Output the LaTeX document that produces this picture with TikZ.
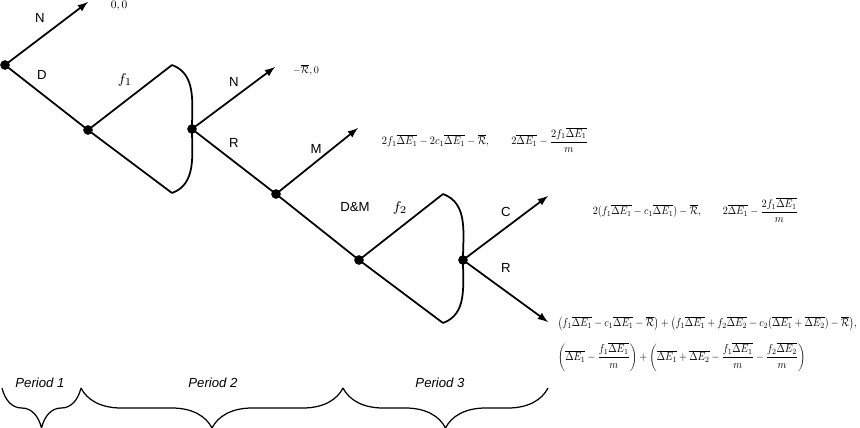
\documentclass[tikz,border=0pt]{standalone}
\usepackage{amsmath,amssymb}
\usepackage{graphicx}
\usepackage{fontspec}
\setsansfont{Liberation Sans}
\usetikzlibrary{arrows,decorations.pathreplacing}
\newcommand{\dE}[1]{\overline{\Delta E_{#1}}}
\newcommand{\Rbar}{\overline{\mathcal{R}}}
\newcommand{\fitpay}[2]{\resizebox{#1}{!}{#2}}

\begin{document}
\begin{tikzpicture}[x=0.02cm, y=-0.02cm, line width=1pt,
  dot/.style={circle, fill, inner sep=0pt, minimum size=5.5pt},
  lbl/.style={font=\sffamily\fontsize{7.5}{9}\selectfont},
  fl/.style={font=\fontsize{8.5}{10}\selectfont},
  per/.style={font=\sffamily\itshape\fontsize{7.5}{9}\selectfont},
  pay/.style={anchor=west, inner sep=0pt}]
        \useasboundingbox (0,0) rectangle (860,427);
        %nodes
        \node[dot] (r) at (5, 65) {};
        \node[dot] (a) at (88, 130) {};
        \node[dot] (b) at (192, 129) {};
        \node[dot] (c) at (276, 194) {};
        \node[dot] (d) at (359, 260) {};
        \node[dot] (e) at (463, 260) {};
        \coordinate (rN) at (88, 2);
        \coordinate (aT) at (172, 65);
        \coordinate (aB) at (172, 193);
        \coordinate (bN) at (275, 67);
        \coordinate (cM) at (358, 128);
        \coordinate (dT) at (443, 194);
        \coordinate (dB) at (443, 323);
        \coordinate (eC) at (548, 196);
        \coordinate (eR) at (548, 322);
        %labels
        \node[lbl] (lN1) at (40, 18) {N};
        \node[lbl] (lD) at (42, 75) {D};
        \node[fl] (lf1) at (125, 80) {$f_1$};
        \node[lbl] (lN2) at (234, 82) {N};
        \node[lbl] (lR1) at (234, 143) {R};
        \node[lbl] (lM) at (316, 149) {M};
        \node[lbl] (lDM) at (355, 207) {D\&M};
        \node[fl] (lf2) at (400, 208) {$f_2$};
        \node[lbl] (lC) at (506, 212) {C};
        \node[lbl] (lR2) at (506, 268) {R};
        %payoffs
        \node[pay] (p1) at (110, 6) {\fitpay{0.33cm}{$0,0$}};
        \node[pay] (p2) at (292, 70) {\fitpay{0.52cm}{$-\Rbar,0$}};
        \node[pay] (p3) at (381, 140) {\scalebox{1}[1.1]{\fitpay{4.12cm}{$2f_1\dE1-2c_1\dE1-\Rbar,\qquad 2\dE1-\dfrac{2f_1\dE1}{m}$}}};
        \node[pay] (p4) at (592, 210) {\scalebox{1}[1.1]{\fitpay{4.1cm}{$2(f_1\dE1-c_1\dE1)-\Rbar,\qquad 2\dE1-\dfrac{2f_1\dE1}{m}$}}};
        \node[pay] (p5) at (557, 344) {\scalebox{1}[1.15]{\fitpay{5.98cm}{$\begin{array}{@{}l@{}}
          \bigl(f_1\dE1-c_1\dE1-\Rbar\bigr)+\bigl(f_1\dE1+f_2\dE2-c_2(\dE1+\dE2)-\Rbar\bigr),\\[10pt]
          \left(\dE1-\dfrac{f_1\dE1}{m}\right)+\left(\dE1+\dE2-\dfrac{f_1\dE1}{m}-\dfrac{f_2\dE2}{m}\right)
          \end{array}$}}};
        %edges
        \draw[-latex] (r.center) -- (rN);
        \draw (r.center) -- (a.center) -- (aT);
        \draw (a.center) -- (aB);
        \draw (aT) to[out=-20, in=90] (b.center) to[out=-90, in=20] (aB);
        \draw[-latex] (b.center) -- (bN);
        \draw (b.center) -- (c.center);
        \draw[-latex] (c.center) -- (cM);
        \draw (c.center) -- (d.center) -- (dT);
        \draw (d.center) -- (dB);
        \draw (dT) to[out=-20, in=90] (e.center) to[out=-90, in=20] (dB);
        \draw[-latex] (e.center) -- (eC);
        \draw[-latex] (e.center) -- (eR);
        %periods
        \coordinate (q0) at (2, 388);
        \coordinate (q1) at (81, 388);
        \coordinate (q2) at (343, 388);
        \coordinate (q3) at (548, 388);
        \draw[line width=0.7pt, decorate, decoration={brace, mirror, amplitude=0.8cm}] (q0) -- (q1);
        \draw[line width=0.7pt, decorate, decoration={brace, mirror, amplitude=0.8cm}] (q1) -- (q2);
        \draw[line width=0.7pt, decorate, decoration={brace, mirror, amplitude=0.8cm}] (q2) -- (q3);
        \node[per] (t1) at (40, 383) {Period 1};
        \node[per] (t2) at (213, 383) {Period 2};
        \node[per] (t3) at (440, 383) {Period 3};
      \end{tikzpicture}
\end{document}
